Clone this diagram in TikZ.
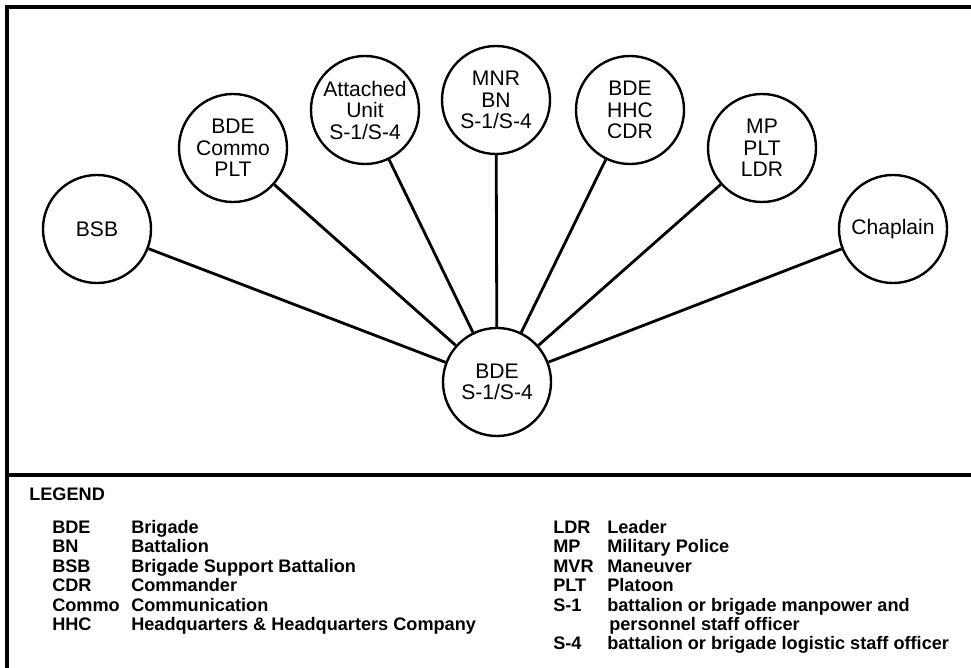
\documentclass[tikz,border=0pt]{standalone}
\usepackage{fontspec}
\setmainfont{Liberation Sans}

\begin{document}
\begin{tikzpicture}[x=0.025cm,y=-0.025cm,
    unit/.style={draw,line width=1.7pt,circle,minimum size=2.7cm,inner sep=0pt,align=center,font=\fontsize{15}{15.3}\selectfont},
    link/.style={line width=2pt},
    frame/.style={line width=2.4pt},
    legtext/.style={anchor=base west,inner sep=0pt,font=\fontsize{12.9}{13}\selectfont\bfseries}]
      \useasboundingbox (0,0) rectangle (971,668);
      \draw[frame] (971,7) -- (7,7) -- (7,668);
      \draw[frame] (7,475) -- (971,475);
      \node[unit] (bde) at (497,382) {BDE\\S-1/S-4};
      \foreach \s/\x/\y/\t in {bsb/97/229/{BSB}, commo/233/148/{BDE\\Commo\\PLT}, attached/365/110/{Attached\\Unit\\S-1/S-4}, mnr/496/100/{MNR\\BN\\S-1/S-4}, hhc/630/110/{BDE\\HHC\\CDR}, mp/762/148/{MP\\PLT\\LDR}, chaplain/893/229/{Chaplain}} {
        \node[unit] (\s) at (\x,\y) {\t};
        \draw[link] (\s) -- (bde);
      }
      \node[legtext] (legend) at (29,500.5) {LEGEND};
      \foreach \a/\d [count=\i from 0] in {BDE/Brigade, BN/Battalion, BSB/Brigade Support Battalion, CDR/Commander, Commo/Communication, HHC/Headquarters \& Headquarters Company} {
        \node[legtext] (la\i) at (52,533.5+19.4*\i) {\a};
        \node[legtext] (ld\i) at (131,533.5+19.4*\i) {\d};
      }
      \foreach \a/\d [count=\i from 0] in {LDR/Leader, MP/Military Police, MVR/Maneuver, PLT/Platoon, S-1/battalion or brigade manpower and} {
        \node[legtext] (ra\i) at (553,533.5+19.4*\i) {\a};
        \node[legtext] (rd\i) at (607,533.5+19.4*\i) {\d};
      }
      \node[legtext] (rd5) at (609,533.5+19.4*5) {personnel staff officer};
      \node[legtext] (ra6) at (553,533.5+19.4*6) {S-4};
      \node[legtext] (rd6) at (607,533.5+19.4*6) {battalion or brigade logistic staff officer};
    \end{tikzpicture}
\end{document}
